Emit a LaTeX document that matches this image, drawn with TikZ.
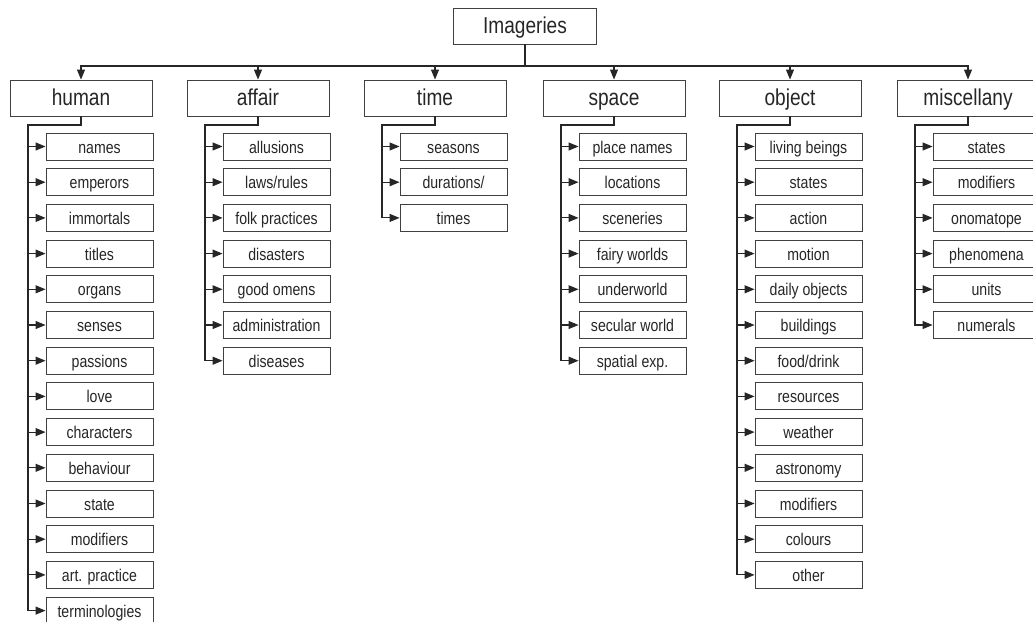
\documentclass[tikz,border=0pt]{standalone}
\usepackage{fontspec}
\setmainfont{Liberation Sans}[FakeStretch=0.83]
\usetikzlibrary{arrows.meta}
\begin{document}
\begin{tikzpicture}[x=1pt,y=-1pt,
  box/.style={draw=black!75, line width=0.9pt, text=black!85, inner sep=0pt, anchor=center},
  rootbox/.style={box, minimum width=143pt, minimum height=36pt, text height=14pt, text depth=0pt, font=\fontsize{23}{26}\selectfont},
  catbox/.style={box, minimum width=142pt, minimum height=36pt, text height=14pt, text depth=0pt, font=\fontsize{23}{26}\selectfont},
  subbox/.style={box, minimum width=107pt, minimum height=27pt, text height=13pt, text depth=0pt, font=\fontsize{17}{20}\selectfont},
  conn/.style={draw=black!85, line width=1.1pt},
  arr/.style={conn, -{Triangle[length=10pt,width=8pt]}}]
\useasboundingbox (0,0) rectangle (1033,621);
\begin{scope}
\clip (0,0) rectangle (1033,621);
\node[rootbox] (root) at (525,26) {Imageries};
\coordinate (bus) at (525,66);
\draw[conn] (root.south) -- (bus);

% human
\node[catbox] (human) at (81,98) {human};
\coordinate (humanT) at (28,125);
\draw[arr] (bus) -| (human.north);
\foreach \t [count=\i] in {names,emperors,immortals,titles,organs,senses,passions,love,characters,behaviour,state,modifiers,art. practice,terminologies}{
  \node[subbox] (human-\i) at (99.5,{146.5+(\i-1)*35.7}) {\t};
  \draw[arr] (human.south) |- (humanT) |- (human-\i.west);
}

% affair
\node[catbox] (affair) at (258,98) {affair};
\coordinate (affairT) at (205,125);
\draw[arr] (bus) -| (affair.north);
\foreach \t [count=\i] in {allusions,laws/rules,folk practices,disasters,good omens,administration,diseases}{
  \node[subbox] (affair-\i) at (276.5,{146.5+(\i-1)*35.7}) {\t};
  \draw[arr] (affair.south) |- (affairT) |- (affair-\i.west);
}

% time
\node[catbox] (time) at (435,98) {time};
\coordinate (timeT) at (382,125);
\draw[arr] (bus) -| (time.north);
\foreach \t [count=\i] in {seasons,durations/,times}{
  \node[subbox] (time-\i) at (453.5,{146.5+(\i-1)*35.7}) {\t};
  \draw[arr] (time.south) |- (timeT) |- (time-\i.west);
}

% space
\node[catbox] (space) at (614,98) {space};
\coordinate (spaceT) at (561,125);
\draw[arr] (bus) -| (space.north);
\foreach \t [count=\i] in {place names,locations,sceneries,fairy worlds,underworld,secular world,spatial exp.}{
  \node[subbox] (space-\i) at (632.5,{146.5+(\i-1)*35.7}) {\t};
  \draw[arr] (space.south) |- (spaceT) |- (space-\i.west);
}

% object
\node[catbox] (object) at (790,98) {object};
\coordinate (objectT) at (737,125);
\draw[arr] (bus) -| (object.north);
\foreach \t [count=\i] in {living beings,states,action,motion,daily objects,buildings,food/drink,resources,weather,astronomy,modifiers,colours,other}{
  \node[subbox] (object-\i) at (808.5,{146.5+(\i-1)*35.7}) {\t};
  \draw[arr] (object.south) |- (objectT) |- (object-\i.west);
}

% miscellany
\node[catbox] (misc) at (968,98) {miscellany};
\coordinate (miscT) at (915,125);
\draw[arr] (bus) -| (misc.north);
\foreach \t [count=\i] in {states,modifiers,onomatope,phenomena,units,numerals}{
  \node[subbox] (misc-\i) at (986.5,{146.5+(\i-1)*35.7}) {\t};
  \draw[arr] (misc.south) |- (miscT) |- (misc-\i.west);
}
\end{scope}
\end{tikzpicture}
\end{document}
